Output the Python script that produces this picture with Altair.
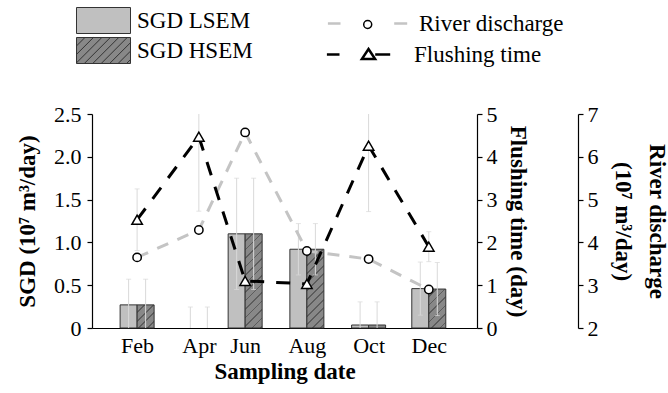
import math
import altair as alt
import pandas as pd

# ---------------- data ----------------
months = ["Feb", "Apr", "Jun", "Aug", "Oct", "Dec"]
month_pos = [2.0, 4.0, 5.5, 7.5, 9.5, 11.45]          # position on the sampling-date axis
sgd_lsem = [0.27, 0.0, 1.10, 0.92, 0.035, 0.46]
sgd_hsem = [0.27, 0.0, 1.10, 0.92, 0.035, 0.455]
sgd_lsem_err = [0.30, 0.245, 0.65, 0.30, 0.27, 0.31]
sgd_hsem_err = [0.30, 0.245, 0.65, 0.30, 0.27, 0.31]
flushing_time = [2.53, 4.47, 1.10, 1.03, 4.26, 1.90]
flushing_err = [0.72, 1.74, 0.0, 0.0, 1.54, 0.35]
river_discharge = [3.65, 4.29, 6.57, 3.80, 3.61, 2.90]

sgd_ticks = [0, 0.5, 1.0, 1.5, 2.0, 2.5]
flush_ticks = [0, 1, 2, 3, 4, 5]
river_ticks = [2, 3, 4, 5, 6, 7]

# ---------------- style ----------------
FONT = "Liberation Serif"
W, H = 385, 214
BAR_W = 17
LSEM_FILL = "#c0c0c0"
HSEM_FILL = "#888888"
HATCH_LINE = "#5c5c5c"
ERR_COL = "#d9d9d9"
RIVER_COL = "#c4c4c4"

df = pd.DataFrame({
    "month": months, "pos": month_pos,
    "lsem": sgd_lsem, "hsem": sgd_hsem,
    "lsem_err": sgd_lsem_err, "hsem_err": sgd_hsem_err,
    "flush": flushing_time, "flush_err": flushing_err,
    "river": river_discharge,
})
df["lsem_lo"] = df["lsem"] - df["lsem_err"]
df["lsem_hi"] = df["lsem"] + df["lsem_err"]
df["hsem_lo"] = df["hsem"] - df["hsem_err"]
df["hsem_hi"] = df["hsem"] + df["hsem_err"]
df["flush_lo"] = df["flush"] - df["flush_err"]
df["flush_hi"] = df["flush"] + df["flush_err"]
df_ferr = df[df["flush_err"] > 0]


def hatch(value, period=8.5, lw=0.2):
    """diagonal-stripe gradient for a bar of the given value"""
    h = value / sgd_ticks[-1] * H
    w = BAR_W
    if h < 5:
        return HSEM_FILL
    k = (w + h) / (w * w + h * h)
    n = (w + h) / period
    stops = []
    i = 0
    while i < n:
        a, b, c = i / n, (i + 1 - lw) / n, (i + 1) / n
        stops += [
            {"offset": min(a, 1), "color": HSEM_FILL},
            {"offset": min(b, 1), "color": HSEM_FILL},
            {"offset": min(b, 1), "color": HATCH_LINE},
            {"offset": min(c, 1), "color": HATCH_LINE},
        ]
        i += 1
    return {"gradient": "linear", "x1": 0, "y1": 0, "x2": w * k, "y2": h * k, "stops": stops}


# legend symbol paths
def rect_path(a):
    return f"M{-a},-1H{a}V1H{-a}Z"


def hatch_path(a, step=0.65):
    p = rect_path(a)
    c = -a - 1 + step
    while c < a + 1:
        y1 = min(1, c + a)
        y2 = max(-1, c - a)
        p += f"M{c - y1:.3f},{y1:.3f}L{c - y2:.3f},{y2:.3f}"
        c += step
    return p


RA = 27 / 13
river_dash_sym = "M-3.96,0H-2.7 M2.67,0H3.97"
river_circ_sym = "M0.42,0 A0.4,0.4 0 1,0 -0.38,0 A0.4,0.4 0 1,0 0.42,0 Z"
flush_sym = "M-3.16,0H-1.9 M1.0,-0.55 L1.66,0.45 L0.34,0.45 Z M1.67,0H3.17"

# ---------------- axes ----------------
label_expr = " : ".join(f"datum.value == {p} ? '{m}'" for p, m in zip(month_pos, months)) + " : ''"
x_enc = alt.X("pos:Q", scale=alt.Scale(domain=[0.7, 12.85], nice=False, zero=False),
              axis=alt.Axis(values=month_pos, labelExpr=label_expr, title="Sampling date",
                            ticks=False, labelPadding=7, titlePadding=4))

left_axis = alt.Axis(orient="left", values=sgd_ticks,
                     labelExpr="datum.value == 0 ? '0' : format(datum.value, '.1f')",
                     title="SGD (10⁷ m³/day)", tickSize=5, labelPadding=6, titlePadding=14)
left_scale = alt.Scale(domain=[0, 2.5], nice=False)

flush_axis = alt.Axis(orient="right", values=flush_ticks, format="d",
                      title="Flushing time (day)", tickSize=5, labelPadding=4, titlePadding=8)
flush_scale = alt.Scale(domain=[0, 5], nice=False)

river_axis = alt.Axis(orient="right", offset=101, values=river_ticks, format="d",
                      title=["River discharge", "(10⁷ m³/day)"], titleLineHeight=34,
                      tickSize=5, labelPadding=4, titlePadding=12)
river_scale = alt.Scale(domain=[2, 7], nice=False)

base = alt.Chart(df)

# ---------------- SGD bars ----------------
lsem_bars = base.transform_filter("datum.lsem > 0").transform_calculate(
    series="'SGD LSEM'"
).mark_bar(
    width=BAR_W, xOffset=-BAR_W / 2, fill=LSEM_FILL, strokeWidth=1
).encode(
    x=x_enc,
    y=alt.Y("lsem:Q", scale=left_scale, axis=left_axis),
    stroke=alt.Stroke("series:N", scale=alt.Scale(range=["#333333"]),
                      legend=alt.Legend(title=None, orient="none", legendX=-2, legendY=-107,
                                        symbolType=rect_path(RA), symbolSize=676,
                                        symbolFillColor=LSEM_FILL, symbolStrokeWidth=1,
                                        labelOffset=20, padding=0)),
)

cond = None
for m, v in zip(months, sgd_hsem):
    pred = alt.datum.month == m
    g = alt.value(hatch(v))
    cond = alt.when(pred).then(g) if cond is None else cond.when(pred).then(g)
hsem_fill = cond.otherwise(alt.value(HSEM_FILL))

hsem_bars = base.transform_filter("datum.hsem > 0").transform_calculate(
    series="'SGD HSEM'"
).mark_bar(
    width=BAR_W, xOffset=BAR_W / 2, strokeWidth=1
).encode(
    x=x_enc,
    y=alt.Y("hsem:Q", scale=left_scale, axis=left_axis),
    fill=hsem_fill,
    stroke=alt.Stroke("series:N", scale=alt.Scale(range=["#333333"]),
                      legend=alt.Legend(title=None, orient="none", legendX=-2, legendY=-77,
                                        symbolType=hatch_path(RA), symbolSize=676,
                                        symbolFillColor=HSEM_FILL, symbolStrokeWidth=1,
                                        labelOffset=20, padding=0)),
)


def err_layers(lo, hi, off, data, scale, axis):
    b = alt.Chart(data)
    rule = b.mark_rule(color=ERR_COL, strokeWidth=1, xOffset=off, clip=True).encode(
        x=x_enc, y=alt.Y(f"{lo}:Q", scale=scale, axis=axis), y2=f"{hi}:Q")
    cap_hi = b.mark_tick(color=ERR_COL, thickness=1, size=5, orient="horizontal",
                         xOffset=off, clip=True).encode(
        x=x_enc, y=alt.Y(f"{hi}:Q", scale=scale, axis=axis))
    cap_lo = b.mark_tick(color=ERR_COL, thickness=1, size=5, orient="horizontal",
                         xOffset=off, clip=True).encode(
        x=x_enc, y=alt.Y(f"{lo}:Q", scale=scale, axis=axis))
    return [rule, cap_hi, cap_lo]


left = alt.layer(
    lsem_bars, hsem_bars,
    *err_layers("lsem_lo", "lsem_hi", -BAR_W / 2, df, left_scale, left_axis),
    *err_layers("hsem_lo", "hsem_hi", BAR_W / 2, df, left_scale, left_axis),
).resolve_scale(stroke="independent")

# ---------------- river discharge ----------------
river_line = base.transform_calculate(series="'River discharge'").mark_line(
    strokeWidth=3, strokeDash=[12, 10]
).encode(
    x=x_enc,
    y=alt.Y("river:Q", scale=river_scale, axis=river_axis),
    stroke=alt.Stroke("series:N", scale=alt.Scale(range=[RIVER_COL]),
                      legend=alt.Legend(title=None, orient="none", legendX=264, legendY=-102,
                                        symbolType=river_dash_sym, symbolSize=400,
                                        symbolFillColor="white", symbolStrokeWidth=2.5,
                                        labelOffset=40, padding=0)),
)
river_pts = base.transform_calculate(marker="'River discharge'").mark_point(
    shape="circle", filled=False, fill="white", strokeWidth=1.5, size=70, opacity=1
).encode(
    x=x_enc, y=alt.Y("river:Q", scale=river_scale, axis=river_axis),
    stroke=alt.Stroke("marker:N", scale=alt.Scale(range=["black"]),
                      legend=alt.Legend(title=None, orient="none", legendX=264, legendY=-101,
                                        symbolType=river_circ_sym, symbolSize=400,
                                        symbolFillColor="white", symbolStrokeWidth=1.5,
                                        labelExpr="''", labelOffset=40, padding=0)),
)
river = alt.layer(river_line, river_pts).resolve_scale(stroke="independent")

# ---------------- flushing time ----------------
flush_line = base.transform_calculate(series="'Flushing time'").mark_line(
    strokeWidth=3, strokeDash=[14, 12]
).encode(
    x=x_enc,
    y=alt.Y("flush:Q", scale=flush_scale, axis=flush_axis),
    stroke=alt.Stroke("series:N", scale=alt.Scale(range=["black"]),
                      legend=alt.Legend(title=None, orient="none", legendX=255, legendY=-71,
                                        symbolType=flush_sym, symbolSize=400,
                                        symbolFillColor="white", symbolStrokeWidth=2.5,
                                        labelOffset=44, padding=0)),
)
flush_pts = base.mark_point(shape="triangle-up", filled=True, fill="white", stroke="black",
                            strokeWidth=1.5, size=110, opacity=1).encode(
    x=x_enc, y=alt.Y("flush:Q", scale=flush_scale, axis=flush_axis))
flush = alt.layer(
    *err_layers("flush_lo", "flush_hi", 0, df_ferr, flush_scale, flush_axis),
    flush_line, flush_pts,
)

chart = alt.layer(left, river, flush).resolve_scale(
    y="independent", stroke="independent"
).properties(
    width=W, height=H,
    autosize=alt.AutoSizeParams(type="none"),
    padding={"left": 92, "top": 114, "right": 191, "bottom": 65},
).configure_view(stroke=None).configure_axis(
    grid=False, domainColor="black", tickColor="black", domainWidth=1.2, tickWidth=1.2,
    labelFont=FONT, labelFontSize=22, labelColor="black",
    titleFont=FONT, titleFontSize=23, titleFontWeight="bold", titleColor="black",
).configure_legend(
    labelFont=FONT, labelFontSize=23, labelColor="black", labelLimit=300,
)

chart.save("out.html", embed_options={"renderer": "svg", "actions": False})
